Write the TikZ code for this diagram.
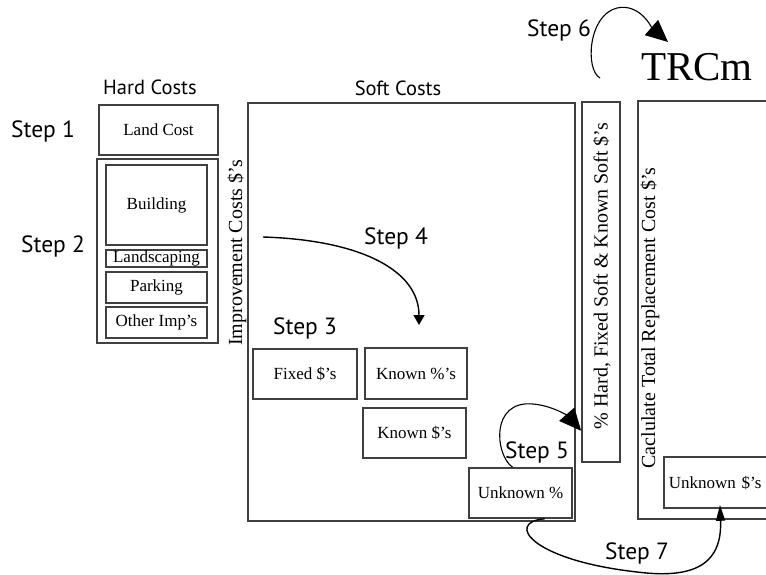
\documentclass[tikz,border=0pt]{standalone}
\usepackage{fontspec}
\setmainfont{Liberation Serif}
\newfontfamily\stepfont{PT Sans}
\usetikzlibrary{arrows.meta}

\tikzset{
    box/.style={draw=black!75, line width=1.6pt, inner sep=0pt, font=\fontsize{17}{20}\selectfont},
    steplabel/.style={font=\stepfont\fontsize{23.5}{27}\selectfont, inner sep=0pt},
    heading/.style={font=\stepfont\fontsize{20.5}{24}\selectfont, inner sep=0pt},
    sidetext/.style={rotate=90, font=\fontsize{20}{24}\selectfont, inner sep=0pt},
    flow/.style={line width=1.4pt, -{Triangle[length=10pt, width=11pt]}},
    bigflow/.style={line width=1.1pt, -{Triangle[length=22pt, width=20pt]}},
}

\begin{document}
\begin{tikzpicture}[x=1pt, y=-1pt]
    \clip (0,0) rectangle (766,575);

    % Hard costs
    \node [heading] (lhard) at (150,87) {Hard Costs};
    \node [steplabel] (step1) at (43,131) {Step 1};
    \node [steplabel] (step2) at (53,246) {Step 2};
    \node [box, minimum width=119pt, minimum height=50pt] (land) at (158.5,130) {Land Cost};
    \node [box, minimum width=121pt, minimum height=184pt] (hard) at (157.5,251) {};
    \node [box, minimum width=101pt, minimum height=80pt] (bldg) at (156.5,205) {Building};
    \node [box, minimum width=101pt, minimum height=17pt] (lands) at (156.5,258.5) {Landscaping};
    \node [box, minimum width=101pt, minimum height=31pt] (park) at (156.5,287.5) {Parking};
    \node [box, minimum width=101pt, minimum height=31pt] (other) at (156.5,322.5) {Other Imp's};
    \node [sidetext] (limp) at (237,253) {Improvement Costs \$'s};

    % Soft costs
    \node [heading] (lsoft) at (398,88) {Soft Costs};
    \node [box, minimum width=327pt, minimum height=418pt] (soft) at (411.5,312) {};
    \node [steplabel] (step3) at (305,328) {Step 3};
    \node [steplabel] (step4) at (396,238) {Step 4};
    \node [steplabel] (step5) at (537,452) {Step 5};
    \node [box, minimum width=104pt, minimum height=50pt] (fixd) at (305,374) {Fixed \$'s};
    \node [box, minimum width=102pt, minimum height=51pt] (knpct) at (416,373.5) {Known \%'s};
    \node [box, minimum width=103pt, minimum height=50pt] (kndol) at (414.5,433) {Known \$'s};
    \node [box, minimum width=103pt, minimum height=50pt] (unpct) at (520.5,493) {Unknown \%};

    % Totals
    \node [box, minimum width=38pt, minimum height=360pt] (pct) at (601,282) {};
    \node [sidetext] (lpct) at (602,276) {\% Hard, Fixed Soft \& Known Soft \$'s};
    \node [box, anchor=north west, minimum width=180pt, minimum height=418pt] (total) at (637,100) {};
    \node [sidetext] (ltotal) at (650,318) {Caclulate Total Replacement Cost \$'s};
    \node [box, anchor=west, minimum height=51pt, text width=140pt, inner xsep=5pt] (undol) at (663,482.5) {Unknown \$'s};
    \node [font=\fontsize{41}{46}\selectfont, inner sep=0pt] (trcm) at (697,67) {TRCm};
    \node [steplabel] (step6) at (559,30) {Step 6};
    \node [steplabel] (step7) at (637,553) {Step 7};

    % Arrows
    \coordinate (s4a) at (263,237);
    \coordinate (s4b) at (419,325);
    \draw [flow] (s4a) .. controls (360,240) and (419,270) .. (s4b);

    \draw [bigflow] ([xshift=-8pt]unpct.north) .. controls (495,455) and (490,400) .. (533,404)
        .. controls (555,406) and (570,418) .. ([yshift=32pt]pct.south west);

    \coordinate (s6a) at (600,78);
    \coordinate (s6b) at (668,42);
    \draw [bigflow] (s6a) .. controls (585,70) and (588,15) .. (617,8)
        .. controls (640,3) and (652,28) .. (s6b);

    \draw [line width=1.4pt, -{Triangle[length=16pt, width=9pt]}] ([xshift=24pt]unpct.south)
        .. controls (505,522) and (530,560) .. (637,572)
        .. controls (700,580) and (722,560) .. ([xshift=57pt, yshift=4pt]undol.south west);
\end{tikzpicture}
\end{document}
